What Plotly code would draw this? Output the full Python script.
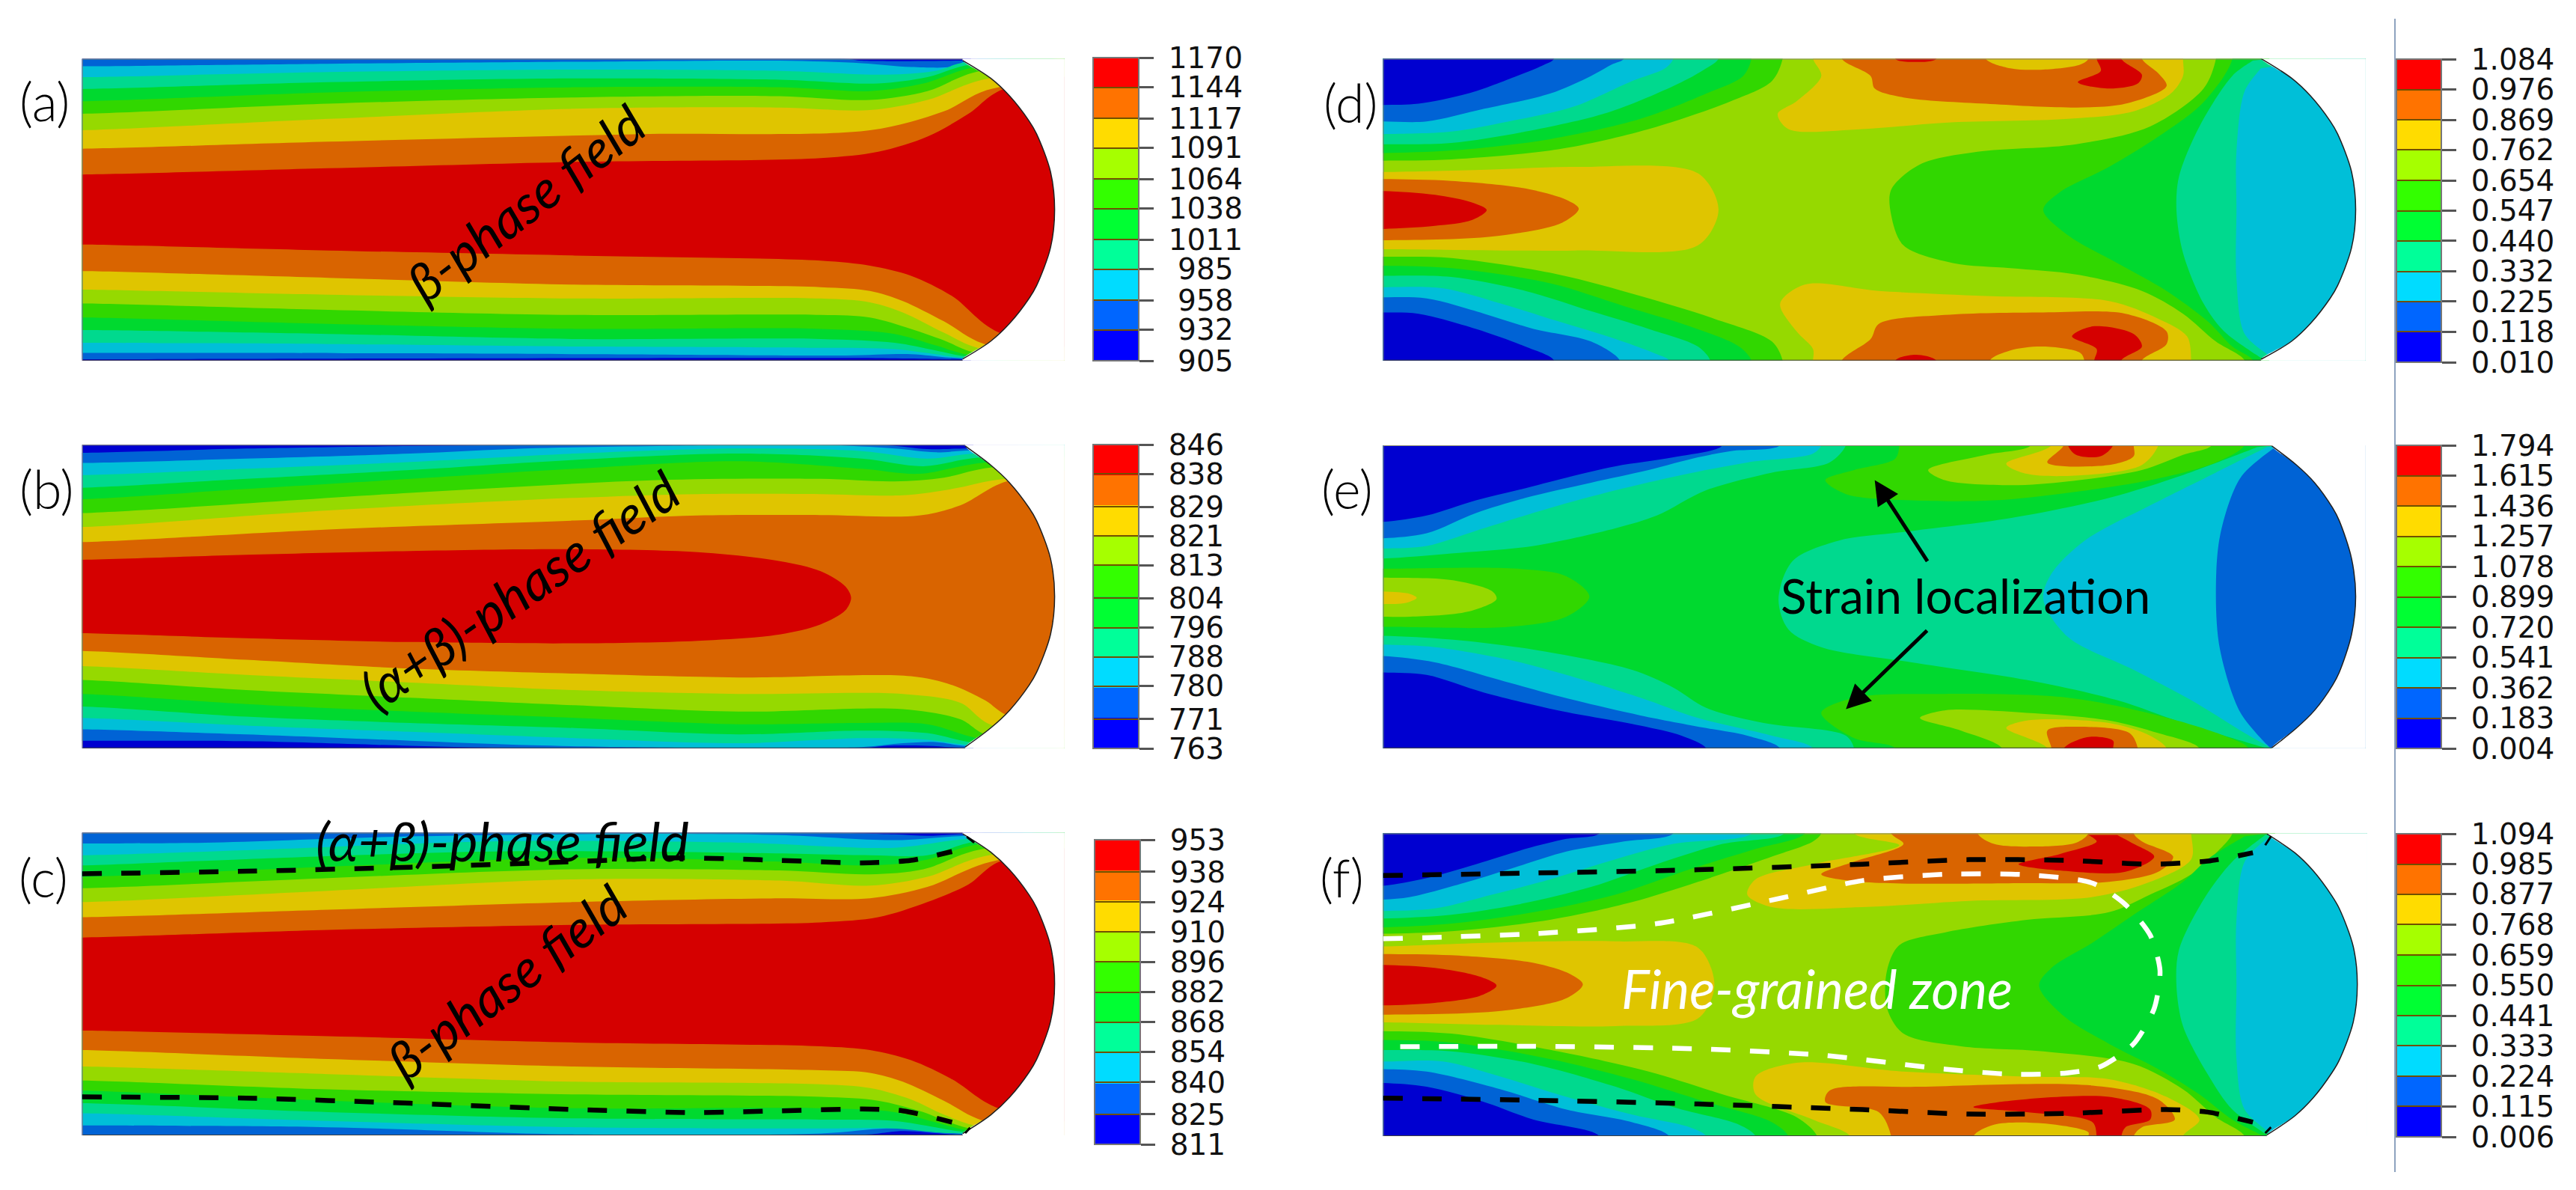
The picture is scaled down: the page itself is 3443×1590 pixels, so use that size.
import plotly.graph_objects as go

W, H = 3443, 1590

# band colours, cold to hot: contour fills are darker than the legend bars
BAND_NAMES = ["dark", "blue", "cyan", "teal", "green2", "green", "lime", "yellow", "orange", "red"]
FILL_COLORS = dict(dark="#0000d0", blue="#0063d5", cyan="#00bfd8", teal="#00d98e", green2="#00d92f",
                   green="#31d700", lime="#96d900", yellow="#dfc500", orange="#d96400", red="#d50000")
BAR_COLORS = ["#0000ff", "#0066ff", "#00dcff", "#00ff99", "#00ff33", "#33ff00", "#a6ff00", "#ffdc00", "#ff7300", "#ff0000"]

# legend values, top to bottom
TICKS_A = [1170, 1144, 1117, 1091, 1064, 1038, 1011, 985, 958, 932, 905]
TICKS_B = [846, 838, 829, 821, 813, 804, 796, 788, 780, 771, 763]
TICKS_C = [953, 938, 924, 910, 896, 882, 868, 854, 840, 825, 811]
TICKS_D = ["1.084", "0.976", "0.869", "0.762", "0.654", "0.547", "0.440", "0.332", "0.225", "0.118", "0.010"]
TICKS_E = ["1.794", "1.615", "1.436", "1.257", "1.078", "0.899", "0.720", "0.541", "0.362", "0.183", "0.004"]
TICKS_F = ["1.094", "0.985", "0.877", "0.768", "0.659", "0.550", "0.441", "0.333", "0.224", "0.115", "0.006"]

ARC_A = [(1173,239),(1207,309),(1230,379),(1254,479),(1263,529),(1280,679),(1285,829),(1280,979),(1263,1129),(1254,1179),(1230,1279),(1207,1349),(1173,1419)]
ARC_B = [(1176,195),(1207,270),(1230,340),(1254,440),(1263,490),(1280,640),(1285,790),(1280,940),(1263,1090),(1254,1140),(1230,1240),(1207,1310),(1176,1385)]
ARC_C = [(1173,160),(1207,232),(1230,302),(1254,402),(1263,452),(1280,602),(1285,752),(1280,902),(1263,1052),(1254,1102),(1230,1202),(1207,1272),(1173,1345)]
ARC_D = [(1185,232),(1222,309),(1245,379),(1269,479),(1278,529),(1295,679),(1300,829),(1295,979),(1278,1129),(1269,1179),(1245,1279),(1222,1349),(1185,1420)]
ARC_E = [(1198,195),(1228,270),(1250,340),(1272,440),(1280,490),(1295,640),(1300,790),(1295,940),(1280,1090),(1272,1140),(1250,1240),(1228,1310),(1198,1388)]
ARC_F = [(1192,160),(1226,235),(1248,305),(1271,405),(1280,455),(1297,605),(1302,755),(1297,905),(1280,1055),(1271,1105),(1248,1205),(1226,1275),(1192,1350)]

# (a) upper and lower edge of each band, blue first, red last
A_UP = [
    [(100,232),(1030,232),(1050,240),(1172,240)],
    [(100,262),(400,252),(700,244),(950,240),(1050,250),(1110,265),(1165,262),(1175,243)],
    [(100,305),(400,285),(700,275),(950,280),(1080,295),(1140,280),(1178,245)],
    [(100,352),(400,325),(700,310),(950,315),(1070,330),(1130,305),(1183,255)],
    [(100,400),(400,365),(700,345),(950,345),(1060,360),(1125,330),(1190,265)],
    [(100,450),(400,410),(700,385),(950,380),(1060,395),(1130,360),(1195,280)],
    [(100,515),(400,470),(700,430),(950,425),(1060,435),(1130,395),(1205,310)],
    [(100,588),(400,560),(780,530),(1060,515),(1150,440),(1210,350)],
    [(100,690),(400,665),(700,640),(1000,625),(1070,600),(1130,540),(1180,450),(1225,350)],
]
A_LOW = [
    [(100,1420),(1030,1415),(1172,1420)],
    [(100,1395),(300,1395),(700,1400),(1030,1405),(1110,1400),(1165,1415)],
    [(100,1355),(400,1360),(700,1370),(1000,1375),(1090,1380),(1140,1400),(1175,1415)],
    [(100,1305),(400,1320),(700,1340),(1000,1340),(1090,1355),(1140,1385),(1180,1410)],
    [(100,1255),(400,1280),(700,1300),(1000,1300),(1090,1320),(1140,1365),(1185,1405)],
    [(100,1200),(400,1225),(700,1245),(1000,1245),(1060,1255),(1110,1300),(1150,1345),(1190,1395)],
    [(100,1145),(400,1165),(700,1180),(1000,1180),(1060,1195),(1100,1235),(1150,1315),(1198,1380)],
    [(100,1072),(400,1098),(700,1125),(1000,1135),(1060,1150),(1100,1190),(1150,1270),(1205,1365)],
    [(100,967),(400,990),(700,1010),(1000,1030),(1060,1050),(1110,1090),(1160,1170),(1222,1320)],
]
# (b)
B_UP = [
    [(100,222),(300,205),(500,195),(680,190),(1080,192),(1130,207),(1182,205)],
    [(100,262),(300,245),(500,225),(640,205),(800,195),(1000,190),(1090,205),(1140,220),(1185,212)],
    [(100,310),(300,285),(500,258),(700,225),(900,205),(1050,215),(1130,245),(1188,225)],
    [(100,360),(300,325),(500,290),(700,250),(900,225),(1050,245),(1125,275),(1195,240)],
    [(100,405),(300,365),(500,325),(700,285),(900,255),(1050,285),(1120,305),(1200,260)],
    [(100,460),(500,380),(800,330),(1000,325),(1090,335),(1150,320),(1207,280)],
    [(100,515),(400,450),(700,400),(850,385),(1000,385),(1100,390),(1160,365),(1225,325)],
    [(100,575),(400,525),(700,490),(850,470),(1000,468),(1120,470),(1170,430),(1232,330)],
]
B_LOW = [
    [(100,1360),(300,1362),(500,1380),(650,1390),(1050,1390),(1080,1380),(1130,1380),(1175,1388)],
    [(100,1315),(300,1335),(500,1360),(650,1378),(850,1388),(1050,1385),(1100,1370),(1140,1365),(1180,1382)],
    [(100,1270),(300,1300),(500,1325),(700,1350),(900,1370),(1050,1350),(1125,1355),(1188,1378)],
    [(100,1225),(300,1265),(500,1290),(700,1310),(900,1335),(1050,1320),(1130,1330),(1192,1370)],
    [(100,1175),(300,1215),(500,1245),(700,1270),(900,1295),(1050,1290),(1130,1295),(1200,1355)],
    [(100,1120),(300,1160),(500,1190),(700,1220),(900,1245),(1100,1235),(1170,1275),(1205,1340)],
    [(100,1065),(300,1100),(500,1130),(700,1160),(900,1175),(1100,1175),(1170,1210),(1210,1300)],
    [(100,1005),(300,1040),(500,1075),(700,1095),(900,1110),(1110,1105),(1160,1140),(1200,1200),(1232,1265)],
]
B_CORE = [(100,645),(300,625),(500,610),(700,603),(850,615),(950,650),(1000,690),(1030,750),(1037,795),(1030,845),(1000,900),(950,940),(850,965),(700,975),(500,970),(300,955),(100,935)]
# (c)
C_UP = [
    [(100,155),(1000,155),(1090,162),(1130,168),(1172,162)],
    [(100,198),(250,195),(500,170),(800,160),(950,165),(1090,185),(1178,168)],
    [(100,245),(300,225),(600,190),(900,195),(1090,215),(1182,180)],
    [(100,285),(300,260),(600,230),(900,235),(1060,245),(1130,245),(1190,190)],
    [(100,330),(400,290),(700,255),(950,270),(1060,285),(1125,265),(1195,200)],
    [(100,375),(400,335),(700,300),(950,305),(1060,320),(1125,300),(1198,220)],
    [(100,430),(400,385),(700,340),(950,345),(1060,365),(1130,330),(1205,245)],
    [(100,490),(400,460),(700,430),(950,415),(1060,415),(1130,370),(1215,265)],
    [(100,570),(400,540),(700,520),(1000,510),(1070,490),(1130,430),(1180,360),(1222,265)],
]
C_LOW = [
    [(100,1352),(1050,1350),(1100,1335),(1172,1350)],
    [(100,1313),(400,1320),(700,1348),(1000,1345),(1080,1325),(1130,1330),(1172,1345)],
    [(100,1265),(400,1295),(700,1320),(1000,1325),(1090,1325),(1140,1340),(1176,1345)],
    [(100,1225),(400,1260),(700,1285),(1000,1290),(1090,1295),(1140,1320),(1180,1340)],
    [(100,1175),(400,1215),(700,1245),(1000,1245),(1090,1260),(1140,1300),(1185,1335)],
    [(100,1135),(400,1170),(700,1190),(1000,1200),(1070,1215),(1120,1255),(1190,1330)],
    [(100,1080),(400,1110),(700,1140),(1000,1150),(1060,1165),(1110,1210),(1150,1270),(1198,1320)],
    [(100,1015),(400,1050),(700,1080),(1000,1095),(1060,1105),(1100,1140),(1150,1215),(1205,1300)],
    [(100,938),(400,960),(700,985),(1000,1000),(1060,1015),(1110,1055),(1160,1130),(1222,1250)],
]
C_DASH_UP = [(100,318),(300,308),(500,292),(700,270),(820,255),(950,265),(1050,275),(1110,265),(1160,230)]
C_DASH_LOW = [(100,1200),(300,1205),(500,1225),(700,1250),(850,1262),(950,1255),(1050,1248),(1100,1255),(1160,1300)]
C_TIP_UP = [(1178,172),(1187,195)]
C_TIP_LOW = [(1176,1343),(1182,1322)]

# (d) regions painted in order over a lime base: (band, outline, side to close through)
D_REGIONS = [
    ("green", [(117,635),(200,630),(330,590),(440,510),(540,400),(590,320),(603,232)], "tl"),
    ("green2", [(117,605),(200,595),(320,550),(430,470),(510,370),(555,300),(565,232)], "tl"),
    ("teal", [(117,570),(200,565),(290,520),(390,445),(470,340),(505,280),(525,232)], "tl"),
    ("cyan", [(117,530),(200,520),(270,480),(350,420),(420,320),(460,270),(470,232)], "tl"),
    ("blue", [(117,480),(170,480),(240,430),(320,370),(370,300),(395,255),(410,232)], "tl"),
    ("dark", [(117,415),(160,410),(220,370),(280,300),(310,260),(325,232)], "tl"),
    ("green", [(117,1015),(200,1020),(330,1085),(430,1170),(520,1260),(590,1350),(603,1425)], "bl"),
    ("green2", [(117,1050),(200,1060),(320,1120),(410,1210),(490,1290),(550,1370),(565,1425)], "bl"),
    ("teal", [(117,1090),(200,1095),(290,1150),(370,1230),(440,1300),(500,1370),(515,1425)], "bl"),
    ("cyan", [(117,1135),(190,1140),(260,1200),(330,1270),(400,1340),(450,1400),(465,1425)], "bl"),
    ("blue", [(117,1175),(170,1180),(240,1240),(300,1300),(370,1350),(405,1425)], "bl"),
    ("dark", [(117,1235),(160,1240),(230,1300),(290,1370),(325,1425)], "bl"),
    ("green", [(1130,232),(1115,350),(1050,500),(960,570),(840,600),(770,650),(735,750),(735,850),(750,970),(810,1040),(880,1060),(960,1085),(1040,1150),(1090,1240),(1130,1350),(1165,1425)], "r"),
    ("green2", [(1150,232),(1140,300),(1110,420),(1060,540),(1000,660),(940,760),(920,830),(950,930),(1010,1040),(1070,1150),(1120,1270),(1150,1370),(1175,1425)], "r"),
    ("teal", [(1175,240),(1150,300),(1110,500),(1085,700),(1082,830),(1090,1000),(1115,1200),(1140,1310),(1185,1415)], "r"),
    ("cyan", [(1185,270),(1165,360),(1155,600),(1155,830),(1155,1100),(1165,1320),(1195,1405)], "r"),
    ("yellow", [(117,680),(250,670),(350,660),(500,685),(525,830),(500,970),(350,990),(117,985)], None),
    ("orange", [(117,708),(200,715),(290,745),(340,790),(355,825),(335,880),(250,935),(117,950)], None),
    ("red", [(117,755),(180,770),(225,800),(243,830),(225,870),(180,893),(117,905)], None),
    ("yellow", [(640,232),(650,300),(620,400),(597,450),(610,510),(700,510),(800,485),(950,470),(1030,440),(1075,370),(1090,300),(1090,232)], None),
    ("orange", [(675,232),(710,300),(715,350),(750,385),(850,410),(960,425),(1020,410),(1070,340),(1060,290),(1040,232)], None),
    ("yellow", [(850,232),(880,270),(920,275),(965,255),(975,232)], None),
    ("red", [(740,232),(765,245),(790,232)], None),
    ("red", [(985,232),(990,280),(962,325),(1000,350),(1035,330),(1040,295),(1015,232)], None),
    ("yellow", [(640,1425),(640,1380),(620,1310),(600,1200),(630,1125),(720,1150),(850,1170),(1000,1190),(1060,1260),(1095,1330),(1100,1425)], None),
    ("orange", [(675,1425),(710,1340),(720,1280),(800,1245),(920,1235),(1020,1240),(1070,1310),(1070,1360),(1040,1425)], None),
    ("yellow", [(855,1425),(880,1385),(920,1370),(965,1395),(970,1425)], None),
    ("red", [(740,1425),(765,1402),(790,1425)], None),
    ("red", [(982,1425),(985,1380),(955,1330),(980,1290),(1030,1320),(1040,1370),(1015,1425)], None),
]

# (e) painted over a green2 base
E_REGIONS = [
    ("teal", [(117,640),(200,620),(300,590),(400,520),(450,470),(510,370),(590,300),(660,260),(680,192)], "tl"),
    ("cyan", [(117,600),(170,590),(230,530),(320,440),(400,370),(480,310),(560,260),(640,225),(650,192)], "tl"),
    ("blue", [(117,560),(170,540),(230,460),(290,400),(370,340),(440,290),(500,240),(540,215),(600,192)], "tl"),
    ("dark", [(117,495),(170,470),(230,410),(280,370),(340,320),(400,275),(470,240),(530,192)], "tl"),
    ("teal", [(117,945),(200,960),(300,1000),(420,1080),(470,1150),(510,1230),(580,1290),(680,1340),(690,1390)], "bl"),
    ("cyan", [(117,980),(180,990),(270,1040),(340,1100),(430,1190),(500,1270),(590,1340),(640,1390)], "bl"),
    ("blue", [(117,1025),(180,1050),(270,1130),(350,1200),(430,1260),(510,1310),(560,1340),(600,1390)], "bl"),
    ("dark", [(117,1090),(170,1100),(240,1170),(330,1240),(430,1300),(480,1340),(510,1390)], "bl"),
    ("green", [(745,192),(740,245),(690,290),(655,330),(680,385),(760,410),(860,410),(950,380),(1050,330),(1130,260),(1165,192)], None),
    ("lime", [(905,192),(850,230),(780,290),(800,330),(880,350),(950,335),(1040,290),(1090,230),(1125,192)], None),
    ("yellow", [(930,192),(875,265),(900,305),(970,310),(1040,270),(1060,192)], None),
    ("orange", [(945,192),(925,260),(1000,270),(1030,235),(1030,192)], None),
    ("red", [(950,192),(960,230),(990,235),(1005,192)], None),
    ("teal", [(1180,200),(1090,310),(1000,400),(880,480),(750,535),(670,570),(615,650),(598,800),(610,920),(650,990),(760,1050),(900,1120),(1010,1200),(1090,1290),(1190,1388)], "r"),
    ("cyan", [(1192,200),(1130,300),(1050,430),(970,570),(930,700),(920,800),(950,950),(1030,1080),(1100,1200),(1160,1320),(1197,1388)], "r"),
    ("blue", [(1200,205),(1160,320),(1135,550),(1130,790),(1135,1000),(1160,1250),(1195,1385)], "r"),
    ("green", [(117,680),(280,680),(340,710),(368,790),(340,870),(270,910),(117,910)], None),
    ("lime", [(117,715),(200,725),(250,770),(255,800),(220,850),(150,870),(117,870)], None),
    ("yellow", [(117,770),(150,780),(158,795),(145,815),(117,820)], None),
    ("green", [(740,1390),(690,1350),(650,1250),(690,1190),(800,1175),(950,1190),(1060,1260),(1140,1340),(1170,1390)], None),
    ("lime", [(870,1390),(820,1320),(770,1270),(800,1240),(900,1250),(1000,1280),(1060,1330),(1110,1390)], None),
    ("yellow", [(925,1390),(875,1310),(900,1280),(1000,1290),(1050,1340),(1070,1390)], None),
    ("orange", [(930,1390),(925,1320),(960,1305),(1025,1330),(1035,1390)], None),
    ("red", [(945,1390),(975,1345),(1005,1360),(1005,1390)], None),
]

# (f) painted over a lime base
F_REGIONS = [
    ("green", [(117,555),(200,545),(320,500),(420,430),(500,350),(590,250),(640,190),(650,158)], "tl"),
    ("green2", [(117,530),(200,515),(300,470),(400,400),(490,300),(570,220),(630,158)], "tl"),
    ("teal", [(117,495),(200,480),(280,440),(370,370),(450,280),(530,200),(605,158)], "tl"),
    ("cyan", [(117,465),(180,455),(250,400),(320,340),(400,260),(470,200),(565,158)], "tl"),
    ("blue", [(117,420),(150,410),(220,350),(280,290),(340,230),(410,190),(470,158)], "tl"),
    ("dark", [(117,365),(170,335),(230,280),(290,220),(340,180),(380,158)], "tl"),
    ("green", [(117,940),(200,950),(330,1020),(440,1100),(530,1190),(620,1280),(645,1355)], "bl"),
    ("green2", [(117,975),(200,985),(320,1050),(420,1130),(510,1220),(590,1300),(610,1355)], "bl"),
    ("teal", [(117,1015),(200,1020),(300,1070),(400,1160),(470,1240),(550,1310),(570,1355)], "bl"),
    ("cyan", [(117,1060),(190,1060),(260,1120),(340,1200),(420,1270),(490,1320),(510,1355)], "bl"),
    ("blue", [(117,1090),(170,1100),(260,1170),(340,1250),(420,1300),(465,1355)], "bl"),
    ("dark", [(117,1145),(170,1160),(240,1220),(300,1290),(380,1355)], "bl"),
    ("green", [(1150,158),(1135,220),(1100,320),(1050,400),(1000,470),(900,500),(800,550),(745,600),(730,700),(730,850),(750,950),(820,1000),(920,1020),(1030,1070),(1090,1170),(1130,1280),(1165,1355)], "r"),
    ("green2", [(1165,170),(1120,260),(1090,350),(1030,480),(980,590),(930,690),(915,760),(945,880),(1000,990),(1060,1090),(1110,1190),(1150,1290),(1185,1350)], "r"),
    ("teal", [(1190,165),(1150,270),(1115,420),(1085,620),(1082,760),(1090,920),(1120,1110),(1150,1250),(1190,1345)], "r"),
    ("cyan", [(1192,180),(1165,270),(1155,500),(1155,760),(1155,1050),(1165,1250),(1195,1340)], "r"),
    ("yellow", [(117,605),(250,590),(400,585),(500,610),(520,760),(500,890),(400,920),(250,915),(117,905)], None),
    ("orange", [(117,635),(200,640),(300,670),(345,715),(360,755),(340,810),(260,860),(117,875)], None),
    ("red", [(117,678),(180,690),(235,725),(255,760),(235,800),(180,828),(117,838)], None),
    ("yellow", [(690,158),(745,205),(640,280),(570,340),(560,400),(590,450),(700,450),(830,425),(980,410),(1050,350),(1100,260),(1100,158)], None),
    ("orange", [(735,158),(750,200),(690,270),(650,320),(700,350),(900,355),(1000,350),(1060,310),(1078,250),(1040,190),(1030,158)], None),
    ("yellow", [(840,158),(860,200),(910,210),(960,195),(975,158)], None),
    ("red", [(975,165),(985,190),(940,240),(890,280),(940,305),(1020,310),(1055,250),(1030,200),(1010,165)], None),
    ("yellow", [(685,1355),(640,1290),(570,1190),(570,1120),(620,1065),(750,1100),(900,1120),(1000,1130),(1070,1200),(1110,1290),(1090,1355)], None),
    ("orange", [(735,1355),(720,1260),(655,1220),(660,1175),(770,1160),(980,1155),(1060,1210),(1080,1290),(1040,1320),(1030,1355)], None),
    ("yellow", [(835,1355),(860,1310),(920,1305),(975,1340),(975,1355)], None),
    ("red", [(985,1355),(980,1300),(900,1260),(835,1240),(880,1215),(1000,1200),(1050,1250),(1050,1290),(1020,1320),(1015,1355)], None),
]
F_DASH_UP = [(117,325),(300,315),(500,302),(700,280),(830,262),(950,265),(1050,280),(1120,268),(1175,235)]
F_DASH_LOW = [(117,1205),(300,1213),(500,1228),(700,1250),(830,1268),(950,1265),(1070,1250),(1120,1260),(1175,1300)]
F_DASH_ZONE = [(117,575),(300,555),(450,515),(600,415),(700,345),(800,320),(900,322),(980,355),(1020,440),(1050,560),(1062,700),(1055,850),(1030,990),(990,1080),(950,1105),(880,1110),(800,1090),(650,1035),(500,1010),(300,1000),(117,1002)]
F_TIP_UP = [(1190,205),(1197,170)]
F_TIP_LOW = [(1190,1343),(1197,1320)]


def band_regions(up, low, names):
    # stacked bands: each one runs off both ends of the panel, the mask trims the right
    regions = []
    for u, l, name in zip(up, low, names):
        pts = [(u[0][0] - 80, u[0][1])] + u + [(1500, u[-1][1]), (1500, l[-1][1])] + l[::-1] + [(l[0][0] - 80, l[0][1])]
        regions.append((name, pts, None))
    return regions


PANELS = [
    dict(tag="(a)", crop=(0, 0, 1720, 530), box=(100, 232, 1425), arc=ARC_A, base="dark",
         regions=band_regions(A_UP, A_LOW, BAND_NAMES[1:]), ticks=TICKS_A, bar=(1461, 1522, 77, 482), tag_at=(60, 135)),
    dict(tag="(b)", crop=(0, 530, 1720, 530), box=(100, 190, 1390), arc=ARC_B, base="dark",
         regions=band_regions(B_UP, B_LOW, BAND_NAMES[1:9]) + [("red", B_CORE, None)], ticks=TICKS_B, bar=(1461, 1522, 594, 1000), tag_at=(62, 653)),
    dict(tag="(c)", crop=(0, 1060, 1720, 530), box=(100, 155, 1352), arc=ARC_C, base="dark",
         regions=band_regions(C_UP, C_LOW, BAND_NAMES[1:]), ticks=TICKS_C, bar=(1463, 1524, 1122, 1529), tag_at=(58, 1172)),
    dict(tag="(d)", crop=(1720, 0, 1723, 530), box=(117, 232, 1425), arc=ARC_D, base="lime",
         regions=D_REGIONS, ticks=TICKS_D, bar=(3203, 3263, 79, 484), tag_at=(1805, 137)),
    dict(tag="(e)", crop=(1720, 530, 1723, 530), box=(117, 192, 1390), arc=ARC_E, base="green2",
         regions=E_REGIONS, ticks=TICKS_E, bar=(3203, 3263, 595, 1000), tag_at=(1800, 653)),
    dict(tag="(f)", crop=(1720, 1060, 1723, 530), box=(117, 158, 1355), arc=ARC_F, base="lime",
         regions=F_REGIONS, ticks=TICKS_F, bar=(3203, 3263, 1114, 1519), tag_at=(1793, 1172)),
]

fig = go.Figure()
layout_axes = {}

for n, p in enumerate(PANELS, start=1):
    cx, cy, cw, ch = p["crop"]
    left, top, bottom = p["box"]
    right = max(q[0] for q in p["arc"]) + 12
    p["xa"], p["ya"] = f"x{n}", f"y{n}"
    # axes run in crop coordinates, domains are placed from the crop on the page
    layout_axes[f"xaxis{n}"] = dict(domain=[(cx + left * cw / 1568) / W, (cx + right * cw / 1568) / W],
                                    range=[left, right], visible=False, anchor=p["ya"])
    layout_axes[f"yaxis{n}"] = dict(domain=[1 - (cy + bottom * ch / 1568) / H, 1 - (cy + top * ch / 1568) / H],
                                    range=[bottom, top], visible=False, anchor=p["xa"])

    def add_poly(pts, color, clip=True):
        fig.add_trace(go.Scatter(x=[q[0] for q in pts], y=[q[1] for q in pts], xaxis=p["xa"], yaxis=p["ya"], mode="lines",
                                 fill="toself", fillcolor=color, line=dict(width=0, shape="spline", smoothing=0.9),
                                 cliponaxis=clip, hoverinfo="skip", showlegend=False))

    def run_out(q):
        # carry an outline past the panel edge it ends on, so the clip cuts it square
        if q[0] <= left:
            return (q[0] - 60, q[1])
        if q[1] <= top:
            return (q[0], q[1] - 60)
        if q[1] >= bottom:
            return (q[0], q[1] + 60)
        return q

    # whole panel first, then the painted regions
    add_poly([(left - 90, top - 90), (right + 300, top - 90), (right + 300, bottom + 90), (left - 90, bottom + 90)], FILL_COLORS[p["base"]])
    for name, pts, side in p["regions"]:
        extra = {"tl": [(left - 120, top - 120)], "bl": [(left - 120, bottom + 120)],
                 "r": [(right + 200, bottom + 120), (right + 200, top - 120)], None: []}[side]
        add_poly([run_out(pts[0])] + pts + [run_out(pts[-1])] + extra, FILL_COLORS[name])

    # white outside the rounded nose, then its outline
    arc = p["arc"]
    add_poly([(arc[0][0], top - 12)] + arc + [(arc[-1][0], bottom + 12), (right + 20, bottom + 12), (right + 20, top - 12)], "#ffffff", clip=False)
    # the clip leaves a faint rim round the masked corner, paint it out
    fig.add_trace(go.Scatter(x=[arc[0][0] + 10, right, right, arc[-1][0] + 10], y=[top, top, bottom, bottom], xaxis=p["xa"], yaxis=p["ya"], mode="lines",
                             line=dict(color="#ffffff", width=6), cliponaxis=False, hoverinfo="skip", showlegend=False))
    fig.add_trace(go.Scatter(x=[q[0] for q in arc], y=[q[1] for q in arc], xaxis=p["xa"], yaxis=p["ya"], mode="lines",
                             line=dict(color="#202020", width=1.5, shape="spline", smoothing=0.9), cliponaxis=False, hoverinfo="skip", showlegend=False))
    # thin outline along the edges
    for xs, ys, col in (([left, arc[0][0]], [top, top], "#8a8a70"), ([left, arc[0][0]], [bottom, bottom], "#404040"), ([left, left], [top, bottom], "#808080")):
        fig.add_trace(go.Scatter(x=xs, y=ys, xaxis=p["xa"], yaxis=p["ya"], mode="lines",
                                 line=dict(color=col, width=2), cliponaxis=False, hoverinfo="skip", showlegend=False))

    # legend: one bar carries the labels, a second one lays the band lines over it
    ticks = p["ticks"]
    vals = [float(t) for t in ticks]
    # tickprefix is ignored with ticktext, so the gap after the tick goes in the text
    text = ["\u00a0" + ("\u00a0" * (4 - len(str(t))) if n == 1 else "") + str(t) for t in ticks]
    scale = []
    for i, c in enumerate(BAR_COLORS):
        scale += [[i / 10, c], [(i + 1) / 10, c]]
    x0, x1, y0, y1 = p["bar"]
    base_bar = dict(x=x0 / W, xanchor="left", xpad=0, ypad=0, y=1 - y1 / H, yanchor="bottom",
                    len=y1 - y0, lenmode="pixels", thickness=x1 - x0, thicknessmode="pixels",
                    outlinewidth=2, outlinecolor="#777777", borderwidth=0, tickmode="array", tickvals=vals)
    for extra_bar in (dict(ticktext=text, ticks="outside", ticklen=19, tickwidth=3, tickcolor="#555555",
                           tickfont=dict(family="DejaVu Sans", size=39, color="#111111")),
                      dict(ticks="inside", ticklen=x1 - x0, tickwidth=2, tickcolor="#705000", showticklabels=False)):
        fig.add_trace(go.Scatter(x=[left - 500], y=[top - 500], xaxis=p["xa"], yaxis=p["ya"], mode="markers", hoverinfo="skip", showlegend=False,
                                 marker=dict(color=[vals[-1]], cmin=vals[-1], cmax=vals[0], colorscale=scale, showscale=True, size=1,
                                             colorbar=dict(**base_bar, **extra_bar))))

annotations = []


def note(panel, x, y, text, size, color="#000000", angle=0, italic=True, weight=400):
    p = PANELS[panel]
    annotations.append(dict(xref=p["xa"], yref=p["ya"], x=x, y=y, text=text, showarrow=False, textangle=angle,
                            xanchor="center", yanchor="middle",
                            font=dict(family="Lato", size=size, color=color, style="italic" if italic else "normal", weight=weight)))


for p in PANELS:
    annotations.append(dict(xref="paper", yref="paper", x=p["tag_at"][0] / W, y=1 - p["tag_at"][1] / H, text=p["tag"], showarrow=False,
                            xanchor="center", yanchor="middle", font=dict(family="Lato", size=70, color="#000000", weight=300)))

note(0, 640, 800, "β-phase field", 71, angle=-37.6)
note(1, 632, 762, "(α+β)-phase field", 72, angle=-34.7)
note(2, 612, 185, "(α+β)-phase field", 72)
note(2, 617, 745, "β-phase field", 71, angle=-37)
note(4, 825, 785, "Strain localization", 64, italic=False)
note(5, 645, 770, "Fine-grained zone", 71, color="#ffffff")

# the two arrows of (e)
for tail, head in (((780, 655), (715, 330)), ((780, 920), (680, 1235))):
    annotations.append(dict(xref="x5", yref="y5", axref="x5", ayref="y5", x=head[0], y=head[1], ax=tail[0], ay=tail[1], text="",
                            showarrow=True, arrowhead=2, arrowsize=1.3, arrowwidth=5, arrowcolor="#000000"))

for panel, pts, color in ((2, C_DASH_UP, "#000000"), (2, C_DASH_LOW, "#000000"), (5, F_DASH_UP, "#000000"),
                          (5, F_DASH_LOW, "#000000"), (5, F_DASH_ZONE, "#ffffff")):
    p = PANELS[panel]
    fig.add_trace(go.Scatter(x=[q[0] for q in pts], y=[q[1] for q in pts], xaxis=p["xa"], yaxis=p["ya"], mode="lines", hoverinfo="skip",
                             showlegend=False, line=dict(color=color, width=6.5, dash="26px,26px", shape="spline", smoothing=0.7)))
for panel, pts in ((2, C_TIP_UP), (2, C_TIP_LOW), (5, F_TIP_UP), (5, F_TIP_LOW)):
    p = PANELS[panel]
    fig.add_trace(go.Scatter(x=[q[0] for q in pts], y=[q[1] for q in pts], xaxis=p["xa"], yaxis=p["ya"], mode="lines", hoverinfo="skip",
                             showlegend=False, line=dict(color="#000000", width=3)))

fig.update_layout(width=W, height=H, margin=dict(l=0, r=0, t=0, b=0, autoexpand=False), paper_bgcolor="#ffffff",
                  plot_bgcolor="rgba(0,0,0,0)", showlegend=False, annotations=annotations,
                  shapes=[dict(type="line", xref="paper", yref="paper", x0=3201 / W, x1=3201 / W, y0=1 - 1566 / H, y1=1 - 25 / H,
                               line=dict(color="#8ea3bf", width=2))],
                  **layout_axes)

fig.write_html("out.html", config={"displayModeBar": False}, post_script="document.body.style.margin='0';")
